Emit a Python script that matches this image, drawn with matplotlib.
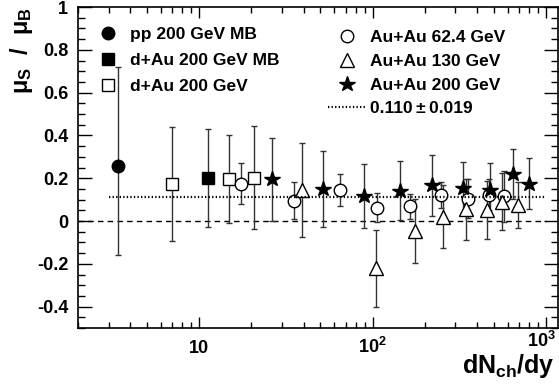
import matplotlib
matplotlib.use("Agg")
import matplotlib.pyplot as plt
import matplotlib.transforms as mtransforms
from matplotlib.ticker import FixedLocator, FixedFormatter, LogLocator, NullFormatter, MultipleLocator
from matplotlib.lines import Line2D

plt.rcParams['font.family'] = ['Liberation Sans', 'DejaVu Sans']
plt.rcParams['font.weight'] = 'bold'
plt.rcParams['mathtext.fontset'] = 'custom'
plt.rcParams['mathtext.rm'] = 'Liberation Sans:bold'
plt.rcParams['mathtext.bf'] = 'Liberation Sans:bold'
plt.rcParams['mathtext.it'] = 'Liberation Sans:bold'
plt.rcParams['mathtext.default'] = 'bf'

# ---------------- data ----------------
pp_x = [3.4]
pp_y = [0.258]
pp_elo = [0.418]
pp_ehi = [0.46]

dau_mb_x = [11.2]
dau_mb_y = [0.199]
dau_mb_e = [0.229]

dau_x = [6.95, 14.9, 20.7]
dau_y = [0.173, 0.197, 0.203]
dau_e = [0.265, 0.206, 0.240]

au62_x = [17.5, 35.4, 64.4, 106.4, 164, 247, 352, 470, 574]
au62_y = [0.175, 0.095, 0.144, 0.063, 0.068, 0.120, 0.105, 0.122, 0.115]
au62_e = [0.096, 0.087, 0.075, 0.068, 0.060, 0.060, 0.090, 0.072, 0.120]

au130_x = [39.3, 104, 175, 255, 345, 454, 555, 686]
au130_y = [0.144, -0.220, -0.045, 0.020, 0.054, 0.050, 0.090, 0.075]
au130_e = [0.220, 0.180, 0.150, 0.148, 0.144, 0.135, 0.132, 0.106]

au200_x = [26.3, 51.7, 89.1, 143, 219, 332, 476, 641, 800]
au200_y = [0.194, 0.149, 0.116, 0.142, 0.166, 0.152, 0.147, 0.220, 0.175]
au200_e = [0.194, 0.177, 0.151, 0.138, 0.144, 0.126, 0.122, 0.117, 0.120]

fit_value = 0.110
fit_err = 0.019
fit_range = [3, 1000]

legend_labels = ["pp 200 GeV MB", "d+Au 200 GeV MB", "d+Au 200 GeV",
                 "Au+Au 62.4 GeV", "Au+Au 130 GeV", "Au+Au 200 GeV"]
fit_label = "0.110\u2009\u00b1\u20090.019"

y_ticks = [-0.4, -0.2, 0, 0.2, 0.4, 0.6, 0.8, 1.0]
y_ticklabels = ["-0.4", "-0.2", "0", "0.2", "0.4", "0.6", "0.8", "1"]
x_ticks = [10, 100, 1000]
x_ticklabels = ["10", "$10^{2}$", "$10^{3}$"]

# ---------------- figure ----------------
fig = plt.figure(figsize=(5.59, 3.84), dpi=100)
ax = fig.add_axes([78/559, 56/384, 480/559, 321/384])
ax.set_xscale('log')
ax.set_xlim(2.0, 1170)
ax.set_ylim(-0.5, 1.0)

ecol = '#333333'
common = dict(ls='none', ecolor=ecol, elinewidth=1.0, capsize=2.2, capthick=1.0,
              markeredgecolor='black', markeredgewidth=1.0, zorder=3)

ax.plot([2.0, 1000], [0, 0], color='black', lw=1.0, ls=(0, (4, 3)), zorder=2)
ax.plot(fit_range, [fit_value, fit_value], color='black', lw=1.6,
        ls=(0, (0.6, 1.0)), zorder=5)

styles = {
    'pp': dict(marker='o', ms=9, markerfacecolor='black'),
    'dmb': dict(marker='s', ms=9, markerfacecolor='black'),
    'd': dict(marker='s', ms=9, markerfacecolor='white'),
    '62': dict(marker='o', ms=9, markerfacecolor='white'),
    '130': dict(marker='^', ms=10, markerfacecolor='white'),
    '200': dict(marker='*', ms=11.5, markerfacecolor='black'),
}

ax.errorbar(pp_x, pp_y, yerr=[pp_elo, pp_ehi], **styles['pp'], **common)
ax.errorbar(dau_mb_x, dau_mb_y, yerr=dau_mb_e, **styles['dmb'], **common)
ax.errorbar(dau_x, dau_y, yerr=dau_e, **styles['d'], **common)
ax.errorbar(au62_x, au62_y, yerr=au62_e, **styles['62'], **common)
ax.errorbar(au130_x, au130_y, yerr=au130_e, **styles['130'], **common)
ax.errorbar(au200_x, au200_y, yerr=au200_e, **styles['200'], **common)

# ticks
ax.yaxis.set_major_locator(FixedLocator(y_ticks))
ax.yaxis.set_major_formatter(FixedFormatter(y_ticklabels))
ax.yaxis.set_minor_locator(MultipleLocator(0.05))
ax.xaxis.set_major_locator(FixedLocator(x_ticks))
ax.xaxis.set_major_formatter(FixedFormatter(x_ticklabels))
ax.xaxis.set_minor_locator(LogLocator(base=10, subs=range(2, 10), numticks=20))
ax.xaxis.set_minor_formatter(NullFormatter())
ax.tick_params(axis='both', which='both', direction='in', top=True, right=True,
               color='black', width=1.0)
ax.tick_params(axis='y', which='major', length=10, pad=7, labelsize=13)
ax.tick_params(axis='y', which='minor', length=5)
ax.tick_params(axis='x', which='major', length=8, pad=18, labelsize=13)
ax.tick_params(axis='x', which='minor', length=4)
for lab in ax.get_yticklabels():
    lab.set_fontweight('bold')
xlabs = ax.get_xticklabels()
for lab in xlabs:
    lab.set_fontweight('bold')
    lab.set_va('baseline')
# nudge the last decade label left/up so it stays inside the canvas (as in the reference)
xlabs[-1].set_transform(xlabs[-1].get_transform() +
                        mtransforms.ScaledTranslation(-5/100, 6/100, fig.dpi_scale_trans))
for s in ax.spines.values():
    s.set_linewidth(1.2)
    s.set_color('black')

# axis labels
ax.set_ylabel("\u03bc$_{S}$  /  \u03bc$_{B}$", fontsize=17, fontweight='bold', loc='top')
ax.yaxis.set_label_coords(-0.09, 1.0)
ax.set_xlabel("dN$_{ch}$/dy", fontsize=18, fontweight='bold', loc='right')
ax.xaxis.set_label_coords(0.992, -0.076)

# legends
def mk(key):
    return Line2D([], [], ls='none', markeredgecolor='black', markeredgewidth=1.0,
                  **styles[key])

leg1 = ax.legend([mk('pp'), mk('dmb'), mk('d')], legend_labels[:3], loc='upper left',
                 bbox_to_anchor=(0.044, 0.937), frameon=False, fontsize=12.5,
                 handlelength=1.0, handletextpad=0.75, borderpad=0, borderaxespad=0,
                 labelspacing=0.62)
ax.add_artist(leg1)
fit_handle = Line2D([], [], color='black', lw=1.6, ls=(0, (0.6, 1.0)))
leg2 = ax.legend([mk('62'), mk('130'), mk('200'), fit_handle],
                 legend_labels[3:] + [fit_label],
                 loc='upper left', bbox_to_anchor=(0.521, 0.928), frameon=False,
                 fontsize=12.5, handlelength=2.2, handletextpad=0.2, borderpad=0,
                 borderaxespad=0, labelspacing=0.49)
for leg in (leg1, leg2):
    for t in leg.get_texts():
        t.set_fontweight('bold')

fig.savefig("out.png", dpi=100)
